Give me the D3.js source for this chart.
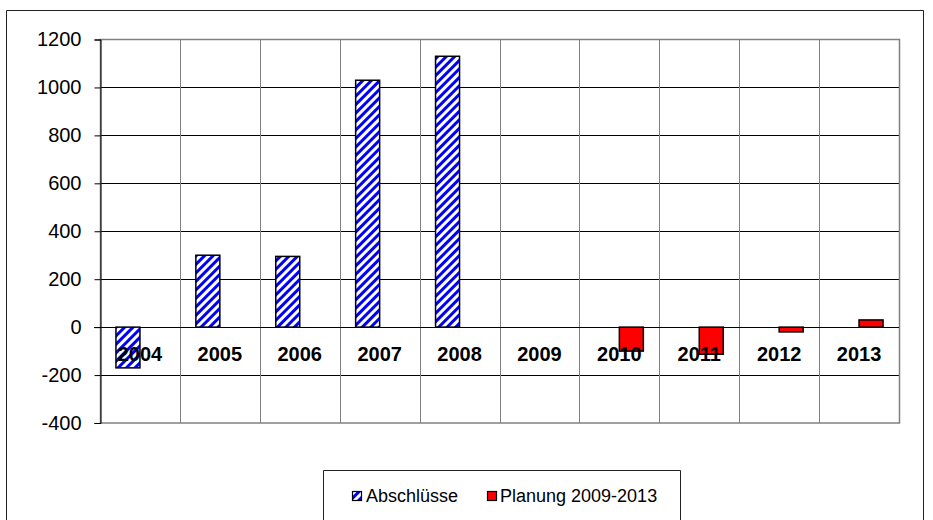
<!DOCTYPE html>
<html><head><meta charset="utf-8">
<script src="https://cdn.jsdelivr.net/npm/d3@7"></script>
<style>body{margin:0;background:#fff}svg{display:block;font-family:Arial,"Liberation Sans",sans-serif}</style>
</head><body><svg id="c" width="933" height="520"></svg>
<script>
const categories = ["2004","2005","2006","2007","2008","2009","2010","2011","2012","2013"];
const abschluesse = [-170, 300, 295, 1030, 1130, null, null, null, null, null];
const planung = [null, null, null, null, null, null, -100, -113, -20, 30];
const yTicks = [-400, -200, 0, 200, 400, 600, 800, 1000, 1200];
const seriesNames = ["Abschlüsse", "Planung 2009-2013"];

const svg = d3.select("#c");
const L = 100, R = 899, T = 39.5, B = 423;
const x = d3.scaleBand().domain(categories).range([L, R]).padding(0);
const y = d3.scaleLinear().domain([-400, 1200]).range([B, T]);
const barW = 24;

const defs = svg.append("defs");
const pat = defs.append("pattern").attr("id","hatch").attr("patternUnits","userSpaceOnUse")
  .attr("width",6).attr("height",6).attr("patternTransform","rotate(45)");
pat.append("rect").attr("width",6).attr("height",6).attr("fill","#fff");
pat.append("rect").attr("x",0).attr("width",3).attr("height",6).attr("fill","#0000ff");

// outer frame
svg.append("path").attr("d","M6.5,520 V10.5 H923.5 V520").attr("fill","none").attr("stroke","#222").attr("stroke-width",1);

// horizontal gridlines
svg.append("g").selectAll("line").data(yTicks.filter(v=>v!==-400 && v!==1200)).join("line")
  .attr("x1",L).attr("x2",R).attr("y1",d=>Math.round(y(d))+0.5).attr("y2",d=>Math.round(y(d))+0.5)
  .attr("stroke","#000").attr("stroke-width",1);
// vertical gridlines
svg.append("g").selectAll("line").data(categories.slice(1)).join("line")
  .attr("x1",d=>Math.round(x(d))+0.5).attr("x2",d=>Math.round(x(d))+0.5).attr("y1",T).attr("y2",B)
  .attr("stroke","#808080").attr("stroke-width",1);
// plot border
svg.append("rect").attr("x",L+0.5).attr("y",T).attr("width",R-L).attr("height",B-T)
  .attr("fill","none").attr("stroke","#808080").attr("stroke-width",1.5);

// y axis
const yAxis = d3.axisLeft(y).tickValues(yTicks).tickSize(6).tickPadding(13).tickFormat(d=>String(d));
const ga = svg.append("g").attr("transform",`translate(${L+0.5},0)`).call(yAxis);
ga.select(".domain").attr("stroke","#000");
ga.selectAll(".tick line").attr("stroke","#000");
ga.selectAll(".tick text").attr("font-size",20).attr("fill","#000").attr("font-family","Arial, 'Liberation Sans', sans-serif");

// zero line
svg.append("line").attr("x1",L-6).attr("x2",R).attr("y1",Math.round(y(0))+0.5).attr("y2",Math.round(y(0))+0.5).attr("stroke","#000");

// bars
const bw = x.bandwidth();
svg.append("g").selectAll("rect").data(categories.map((c,i)=>({c,v:abschluesse[i]})).filter(d=>d.v!=null)).join("rect")
  .attr("x",d=>x(d.c)+bw/2-barW).attr("width",barW)
  .attr("y",d=>y(Math.max(0,d.v))).attr("height",d=>Math.abs(y(d.v)-y(0)))
  .attr("fill","url(#hatch)").attr("stroke","#000").attr("stroke-width",1.5);
svg.append("g").selectAll("rect").data(categories.map((c,i)=>({c,v:planung[i]})).filter(d=>d.v!=null)).join("rect")
  .attr("x",d=>x(d.c)+bw/2).attr("width",barW)
  .attr("y",d=>y(Math.max(0,d.v))).attr("height",d=>Math.abs(y(d.v)-y(0)))
  .attr("fill","#ff0000").attr("stroke","#000").attr("stroke-width",1.5);

// category labels
svg.append("g").selectAll("text").data(categories).join("text")
  .attr("x",d=>x(d)+bw/2).attr("y",361).attr("text-anchor","middle")
  .attr("font-size",20).attr("font-weight","bold").attr("fill","#000").text(d=>d);

// legend
svg.append("path").attr("d","M323.5,520 V470.5 H680.5 V520").attr("fill","#fff").attr("stroke","#222");
const lg = svg.append("g");
lg.append("rect").attr("x",352.5).attr("y",491.5).attr("width",9).attr("height",9).attr("fill","url(#hatch)").attr("stroke","#000").attr("stroke-width",1.2);
lg.append("text").attr("x",366).attr("y",501.5).attr("font-size",18).attr("fill","#000").text(seriesNames[0]);
lg.append("rect").attr("x",487.5).attr("y",491.5).attr("width",9).attr("height",9).attr("fill","#ff0000").attr("stroke","#000").attr("stroke-width",1.2);
lg.append("text").attr("x",500).attr("y",501.5).attr("font-size",18).attr("fill","#000").text(seriesNames[1]);
</script></body></html>
